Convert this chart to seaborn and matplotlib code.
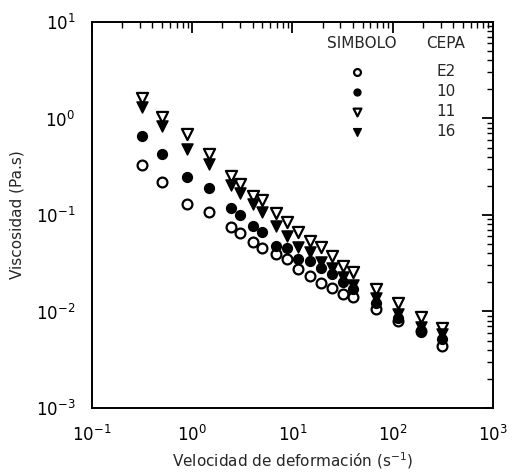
import numpy as np
import pandas as pd
import matplotlib
matplotlib.use("Agg")
import matplotlib.pyplot as plt
import seaborn as sns

# ---- data ----
shear_rate = [0.317, 0.505, 0.896, 1.47, 2.45, 3.02, 4.03, 4.92, 6.78, 8.78,
              11.4, 14.9, 19.3, 24.6, 31.6, 40.5, 67.5, 114, 191, 313]
visc_E2 = [0.330, 0.218, 0.131, 0.107, 0.0746, 0.0651, 0.0531, 0.0455, 0.0394, 0.0348,
           0.0274, 0.0233, 0.0196, 0.0177, 0.0152, 0.0141, 0.0105, 0.00806, 0.00628, 0.00444]
visc_10 = [0.664, 0.426, 0.249, 0.191, 0.118, 0.101, 0.0773, 0.0666, 0.0472, 0.0452,
           0.0353, 0.0334, 0.0279, 0.0245, 0.0204, 0.0171, 0.01225, 0.00856, 0.00613, 0.00519]
visc_11 = [1.643, 1.029, 0.686, 0.426, 0.254, 0.2095, 0.159, 0.143, 0.106, 0.0856,
           0.0671, 0.0538, 0.0463, 0.0376, 0.0296, 0.0255, 0.0170, 0.01216, 0.00883, 0.00670]
visc_16 = [1.306, 0.842, 0.486, 0.338, 0.206, 0.169, 0.130, 0.107, 0.0778, 0.0606,
           0.0469, 0.0418, 0.0328, 0.0279, 0.0228, 0.0188, 0.0138, 0.00942, 0.00691, 0.00585]
cepas = ["E2", "10", "11", "16"]

x_ticks = [0.1, 1, 10, 100, 1000]
y_ticks = [0.001, 0.01, 0.1, 1, 10]

series = {"E2": visc_E2, "10": visc_10, "11": visc_11, "16": visc_16}
df = pd.concat([pd.DataFrame({"rate": shear_rate, "visc": v, "cepa": k})
                for k, v in series.items()], ignore_index=True)

# ---- style ----
sns.set_style("white")
plt.rcParams["font.family"] = ["DejaVu Sans"]
plt.rcParams["mathtext.default"] = "regular"

styles = {
    "E2": dict(marker="o", color="white", edgecolor="black", s=50, linewidth=1.6),
    "10": dict(marker="o", color="black", edgecolor="black", s=50, linewidth=1.0),
    "11": dict(marker="v", color="white", edgecolor="black", s=64, linewidth=1.6),
    "16": dict(marker="v", color="black", edgecolor="black", s=64, linewidth=1.0),
}

fig = plt.figure(figsize=(5.14, 4.76), dpi=100)
ax = fig.add_axes([0.179, 0.1429, 0.780, 0.8109])

for c in cepas:
    sub = df[df["cepa"] == c]
    sns.scatterplot(data=sub, x="rate", y="visc", ax=ax, label=c, **styles[c])

ax.set_xscale("log")
ax.set_yscale("log")
ax.set_xlim(0.1, 1000)
ax.set_ylim(0.001, 10)
ax.set_xticks(x_ticks)
ax.set_yticks(y_ticks)
ax.xaxis.set_minor_locator(matplotlib.ticker.LogLocator(base=10, subs=np.arange(2, 10), numticks=20))
ax.yaxis.set_minor_locator(matplotlib.ticker.LogLocator(base=10, subs=np.arange(2, 10), numticks=20))

for sp in ax.spines.values():
    sp.set_linewidth(1.4)
    sp.set_color("black")

ax.tick_params(which="both", direction="in", top=True, right=True, colors="black")
ax.tick_params(which="major", length=8, width=1.3, labelsize=12, pad=12)
ax.tick_params(which="minor", length=4, width=1.0)

ax.set_xlabel("Velocidad de deformación (s$^{-1}$)", fontsize=11, labelpad=4)
ax.set_ylabel("Viscosidad (Pa.s)", fontsize=11, labelpad=8)

# legend with column headers
fig.text(362 / 514, 1 - 43 / 476, "SIMBOLO", ha="center", va="center", fontsize=11)
fig.text(446 / 514, 1 - 43 / 476, "CEPA", ha="center", va="center", fontsize=11)
leg = ax.legend(loc="upper left", bbox_to_anchor=(349.4 / 514, 1 - 64 / 476),
                bbox_transform=fig.transFigure, frameon=False, fontsize=11,
                handlelength=1.0, handletextpad=4.7, labelspacing=0.33,
                borderpad=0, borderaxespad=0, markerscale=0.7)

fig.savefig("out.png", dpi=100, facecolor="white")
